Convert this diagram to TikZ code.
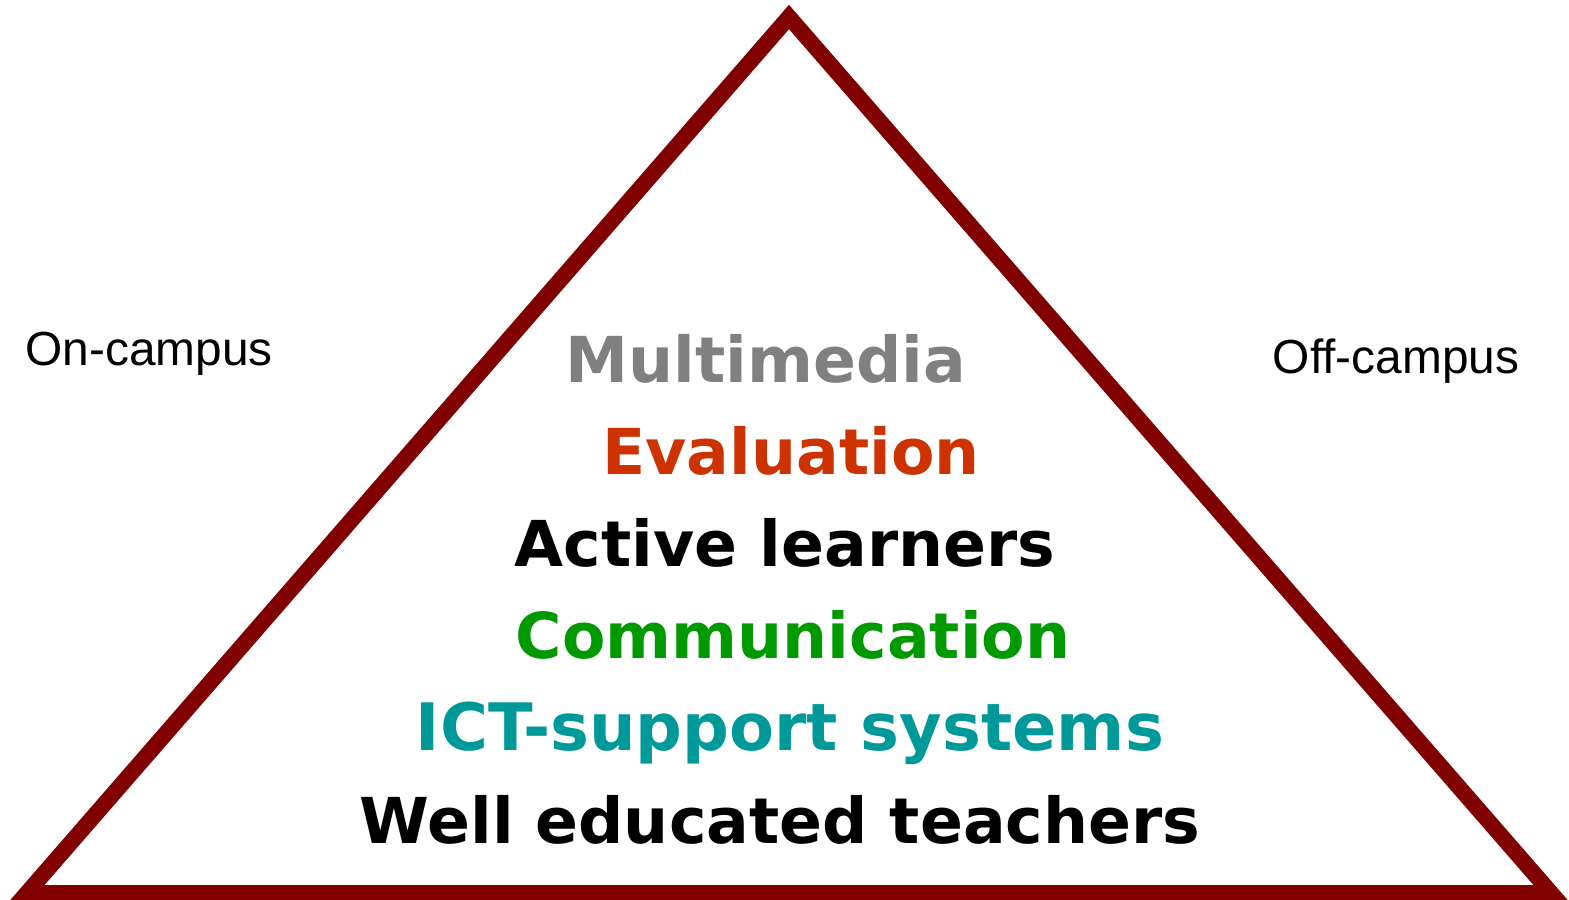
\documentclass[tikz,border=0pt]{standalone}
\usepackage{fontspec}
\setmainfont[Ligatures=NoCommon]{Liberation Sans}
\newfontfamily\nivelfont{DejaVu Sans}
\definecolor{rojooscuro}{RGB}{128,0,0}
\definecolor{gris}{RGB}{128,128,128}
\definecolor{naranja}{RGB}{204,51,0}
\definecolor{verde}{RGB}{0,153,0}
\definecolor{turquesa}{RGB}{0,153,153}
\tikzset{
  nivel/.style={anchor=base, inner sep=0pt, font=\nivelfont\bfseries\fontsize{18pt}{20pt}\selectfont},
  lado/.style={anchor=base, inner sep=0pt, font=\fontsize{13.6pt}{15pt}\selectfont}
}

\begin{document}
\begin{tikzpicture}[x=0.01cm, y=-0.01cm]
        \useasboundingbox (0,0) rectangle (1569,900);

        % Triángulo
        \draw[rojooscuro, line width=0.16cm, miter limit=10] (789,17) -- (1551,893) -- (27,893) -- cycle;

        % Etiquetas laterales
        \node[lado] (oncampus) at (149,365) {On-campus};
        \node[lado] (offcampus) at (1396,373) {Off-campus};

        % Niveles
        \node[nivel, gris] (multimedia) at (766,382) {Multimedia};
        \node[nivel, naranja] (evaluation) at (791,474) {Evaluation};
        \node[nivel] (active) at (785,566) {Active learners};
        \node[nivel, verde] (communication) at (793,658) {Communication};
        \node[nivel, turquesa, font=\nivelfont\bfseries\fontsize{18.6pt}{20pt}\selectfont] (ict) at (790,750) {ICT-support systems};
        \node[nivel] (teachers) at (780,843) {Well educated teachers};
    \end{tikzpicture}
\end{document}
